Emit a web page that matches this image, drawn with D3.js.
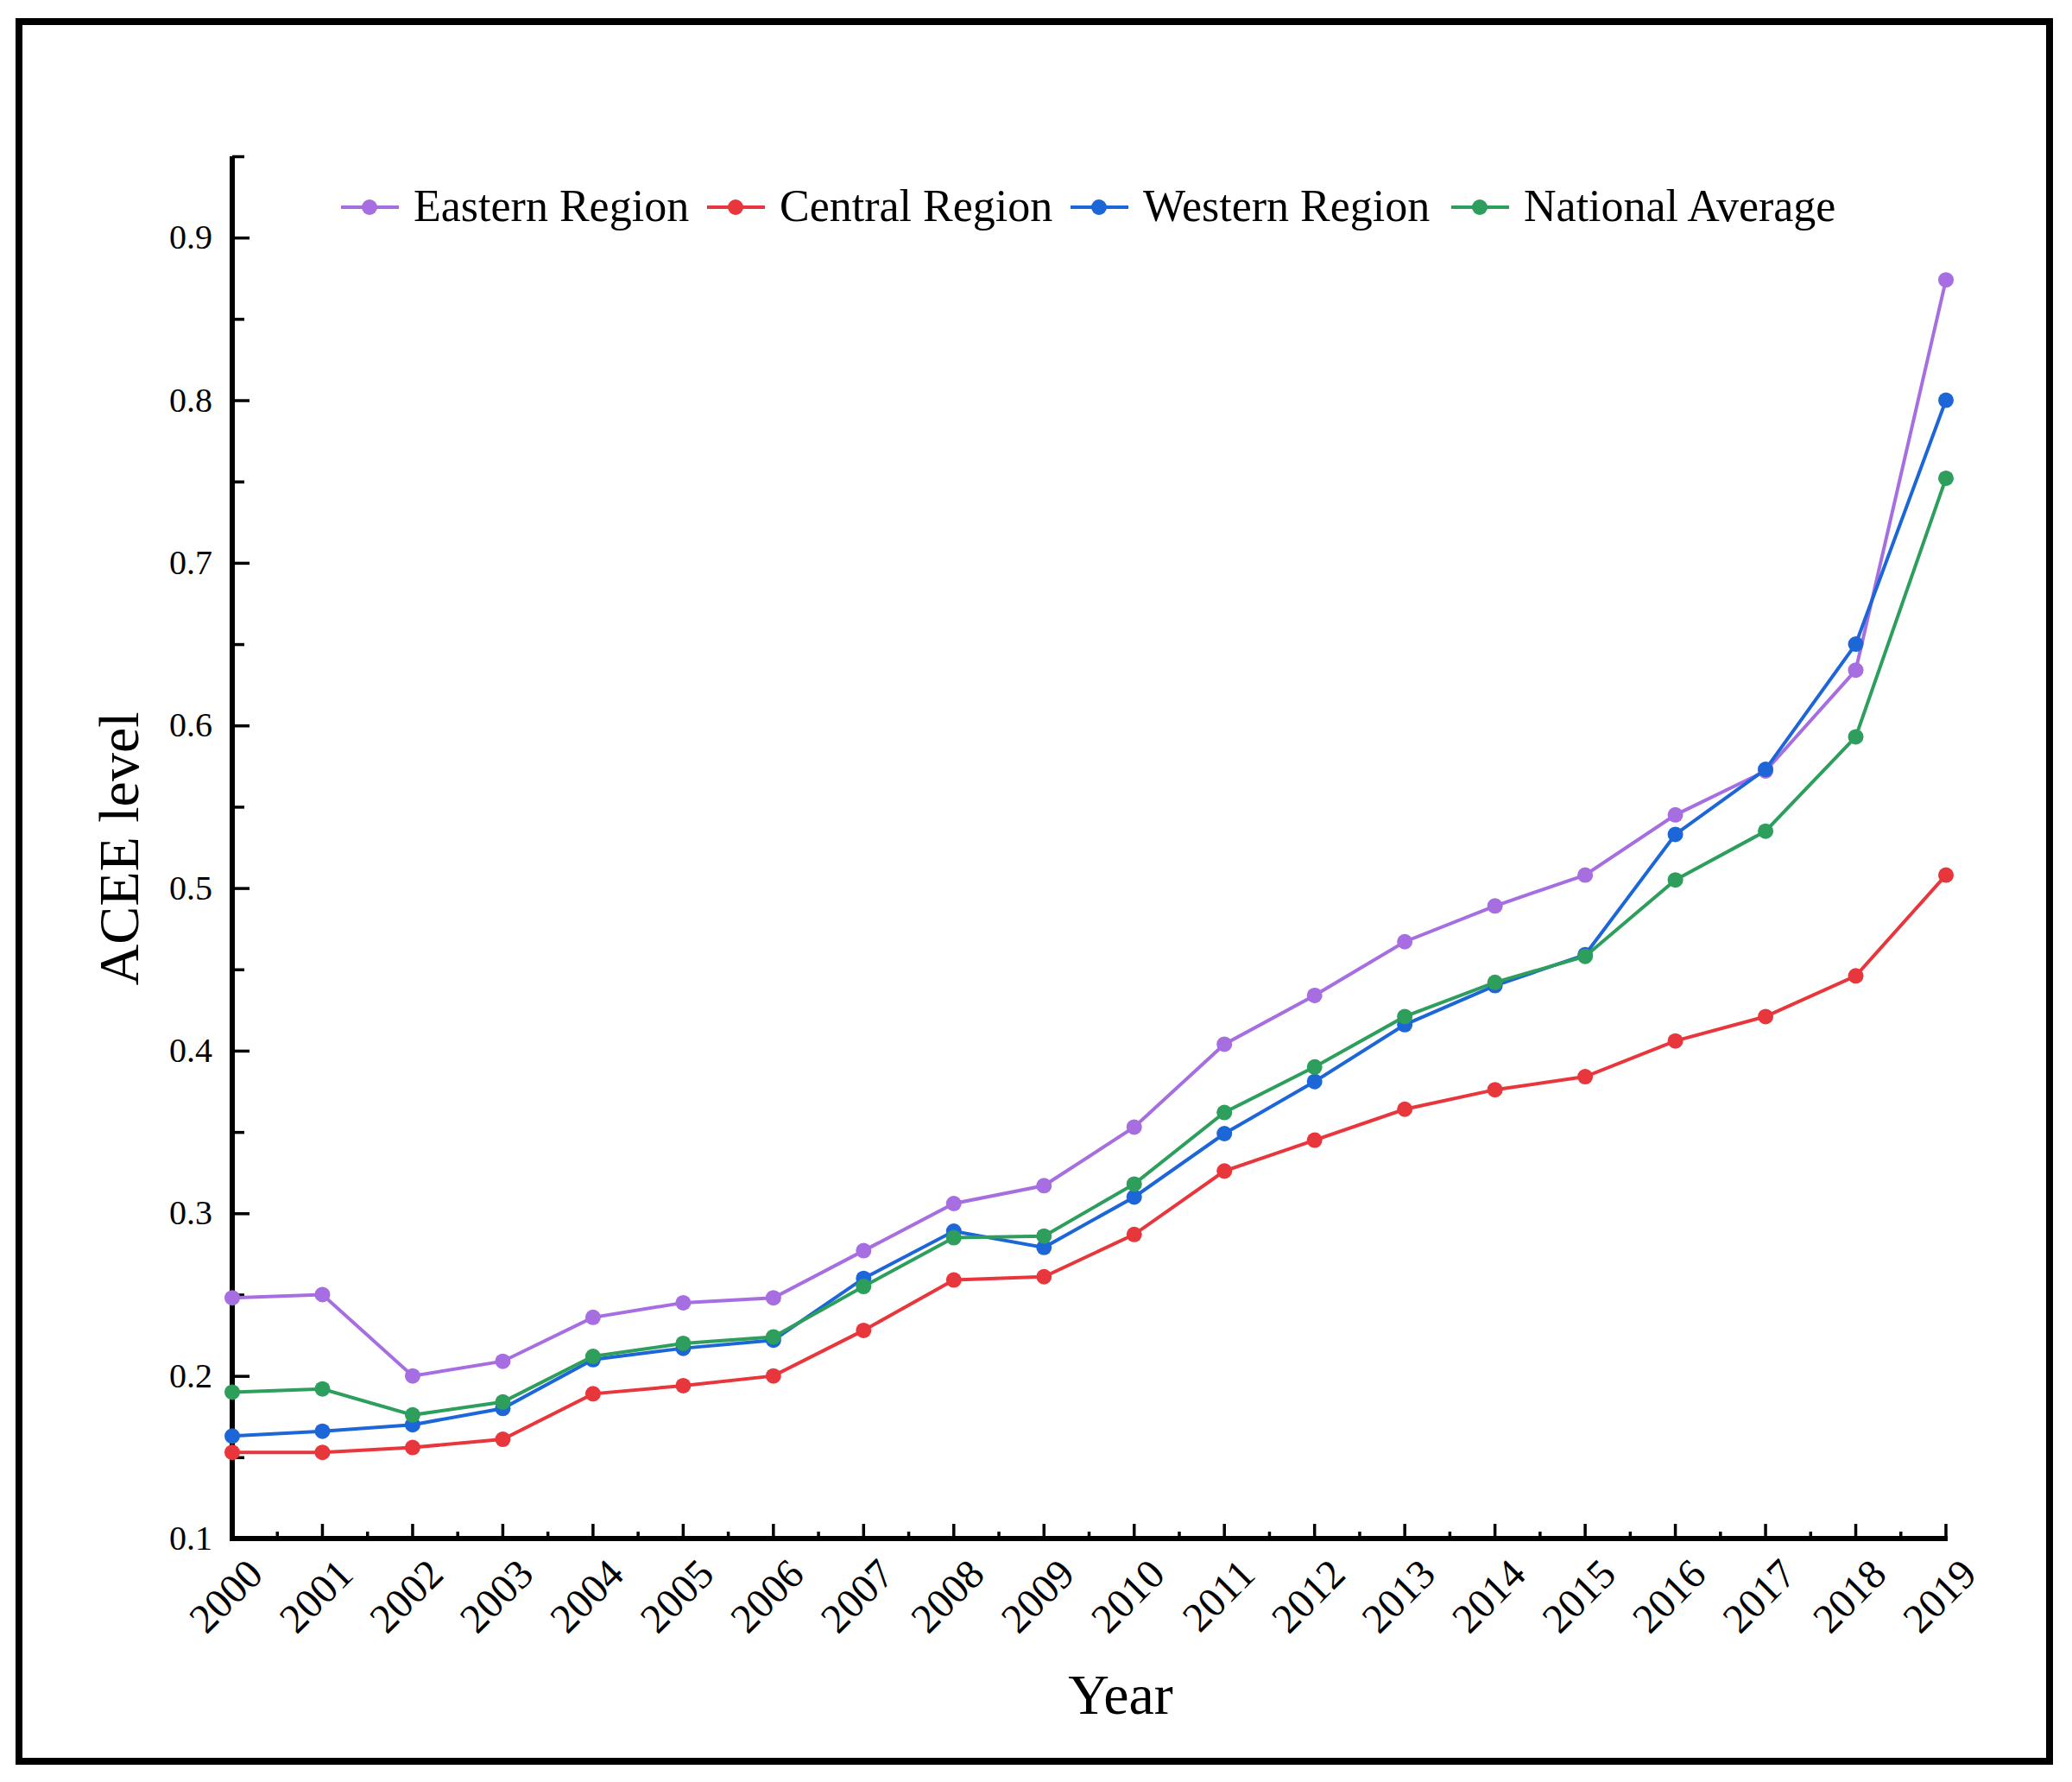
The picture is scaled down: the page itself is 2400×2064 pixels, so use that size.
<!DOCTYPE html>
<html lang="en">
<head>
<meta charset="utf-8">
<title>ACEE level by region</title>
<script src="https://d3js.org/d3.v7.min.js"></script>
<style>
  body { margin: 0; background: #fff; }
  text { font-family: "Liberation Serif", "Times New Roman", serif; fill: #000; }
</style>
</head>
<body>
<script>
// data
var years = [2000, 2001, 2002, 2003, 2004, 2005, 2006, 2007, 2008, 2009,
             2010, 2011, 2012, 2013, 2014, 2015, 2016, 2017, 2018, 2019];
var eastern  = [0.248, 0.250, 0.200, 0.209, 0.236, 0.245, 0.248, 0.277, 0.306, 0.317,
                0.353, 0.404, 0.434, 0.467, 0.489, 0.508, 0.545, 0.572, 0.634, 0.874];
var central  = [0.153, 0.153, 0.156, 0.161, 0.189, 0.194, 0.200, 0.228, 0.259, 0.261,
                0.287, 0.326, 0.345, 0.364, 0.376, 0.384, 0.406, 0.421, 0.446, 0.508];
var western  = [0.163, 0.166, 0.170, 0.180, 0.210, 0.217, 0.222, 0.260, 0.289, 0.279,
                0.310, 0.349, 0.381, 0.416, 0.440, 0.459, 0.533, 0.573, 0.650, 0.800];
var national = [0.190, 0.192, 0.176, 0.184, 0.212, 0.220, 0.224, 0.255, 0.285, 0.286,
                0.318, 0.362, 0.390, 0.421, 0.442, 0.458, 0.505, 0.535, 0.593, 0.752];
var seriesNames = ["Eastern Region", "Central Region", "Western Region", "National Average"];
var seriesColors = ["#a66ee0", "#e8373c", "#1d66d8", "#2e9e5c"];
var yTicks = [0.1, 0.2, 0.3, 0.4, 0.5, 0.6, 0.7, 0.8, 0.9];

var W = 2400, H = 2064;
var svg = d3.select("body").append("svg")
    .attr("width", W).attr("height", H);

svg.append("rect").attr("width", W).attr("height", H).attr("fill", "#fff");

// outer frame
svg.append("rect")
    .attr("x", 22).attr("y", 25).attr("width", 2352).attr("height", 2015)
    .attr("fill", "none").attr("stroke", "#000").attr("stroke-width", 8);

var x = d3.scaleLinear().domain([2000, 2019]).range([269, 2254]);
var y = d3.scaleLinear().domain([0.1, 0.95]).range([1782, 181]);

// y axis ticks (major + minor, pointing inward)
var yAxis = d3.axisRight(y)
    .tickValues(d3.range(0.1, 0.951, 0.05))
    .tickSize(0)
    .tickFormat("");
var gy = svg.append("g").attr("transform", "translate(269,0)").call(yAxis);
gy.select(".domain").remove();
gy.selectAll(".tick line")
    .attr("x2", function(d, i) { return i % 2 == 0 ? 20 : 14; })
    .attr("stroke", "#000").attr("stroke-width", 3.5);

svg.selectAll(".ylab")
    .data(yTicks)
    .enter().append("text")
    .attr("class", "ylab")
    .attr("x", 246)
    .attr("y", function(d) { return y(d) + 13; })
    .attr("text-anchor", "end")
    .attr("font-size", 40)
    .text(function(d) { return d.toFixed(1); });

// x axis ticks
var minor = d3.range(2000.5, 2019, 1);
svg.selectAll(".xminor")
    .data(minor)
    .enter().append("line")
    .attr("x1", function(d) { return x(d); })
    .attr("x2", function(d) { return x(d); })
    .attr("y1", 1782).attr("y2", 1774)
    .attr("stroke", "#000").attr("stroke-width", 3.5);
svg.selectAll(".xmajor")
    .data(years)
    .enter().append("line")
    .attr("x1", function(d) { return x(d); })
    .attr("x2", function(d) { return x(d); })
    .attr("y1", 1782).attr("y2", 1765)
    .attr("stroke", "#000").attr("stroke-width", 3.5);

svg.append("line")
    .attr("x1", 269).attr("x2", 269).attr("y1", 181).attr("y2", 1785)
    .attr("stroke", "#000").attr("stroke-width", 6);
svg.append("line")
    .attr("x1", 266).attr("x2", 2256).attr("y1", 1782).attr("y2", 1782)
    .attr("stroke", "#000").attr("stroke-width", 6);

svg.selectAll(".xlab")
    .data(years)
    .enter().append("text")
    .attr("class", "xlab")
    .attr("text-anchor", "end")
    .attr("font-size", 48)
    .attr("transform", function(d) {
        return "translate(" + (x(d) + 38) + "," + 1826 + ") rotate(-45)";
    })
    .text(function(d) { return d; });

// axis titles
svg.append("text")
    .attr("x", 1298).attr("y", 1985)
    .attr("text-anchor", "middle")
    .attr("font-size", 66)
    .text("Year");
svg.append("text")
    .attr("transform", "translate(160,983) rotate(-90)")
    .attr("text-anchor", "middle")
    .attr("font-size", 66)
    .text("ACEE level");

// lines + markers
var allSeries = [eastern, central, western, national];
var line = d3.line()
    .x(function(d, i) { return x(years[i]); })
    .y(function(d) { return y(d); });

allSeries.forEach(function(vals, k) {
    svg.append("path")
        .datum(vals)
        .attr("d", line)
        .attr("fill", "none")
        .attr("stroke", seriesColors[k])
        .attr("stroke-width", 4);
    svg.selectAll(".pt" + k)
        .data(vals)
        .enter().append("circle")
        .attr("cx", function(d, i) { return x(years[i]); })
        .attr("cy", function(d) { return y(d); })
        .attr("r", 9)
        .attr("fill", seriesColors[k]);
});

// legend
var legLineX = [395, 819, 1240, 1681];
var legend = svg.selectAll(".leg")
    .data(seriesNames)
    .enter().append("g")
    .attr("transform", function(d, i) { return "translate(" + legLineX[i] + ",240)"; });
legend.append("line")
    .attr("x1", 0).attr("x2", 67).attr("y1", 0).attr("y2", 0)
    .attr("stroke", function(d, i) { return seriesColors[i]; })
    .attr("stroke-width", 4);
legend.append("circle")
    .attr("cx", 33).attr("cy", 0).attr("r", 9)
    .attr("fill", function(d, i) { return seriesColors[i]; });
legend.append("text")
    .attr("x", 84).attr("y", 16)
    .attr("font-size", 52)
    .text(function(d) { return d; });
</script>
</body>
</html>
